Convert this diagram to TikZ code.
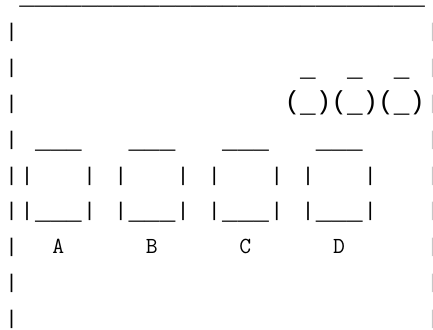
\documentclass[tikz,border=0pt]{standalone}
\usepackage{fontspec}
\usepackage{graphicx}
\newfontfamily\asciifont{Liberation Mono}
\usetikzlibrary{positioning}
% underscore and bar set as in the reference's typewriter face
\newcommand\lowbar{\raisebox{-2.3pt}{\_}}
\newcommand\wall{\makebox[0.6em]{\raisebox{0.55pt}{\scalebox{0.8}[0.76]{|}}}}
\tikzset{
 ascii/.style={font=\asciifont\fontsize{26pt}{30pt}\selectfont,inner sep=0pt,
               anchor=base west},
 faint/.style={ascii,text=black!22},
 tag/.style={font=\ttfamily\fontsize{23pt}{28pt}\selectfont,inner sep=0pt,
             anchor=base}
}

\begin{document}
\begin{tikzpicture}
\useasboundingbox (0pt,0pt) rectangle (433pt,-329pt);
\begin{scope}[shift={(3.6pt,-38pt)},x=15.6pt,y=-35.9pt]
% roof line
\node[ascii] (roof) at (1,-1)
  {\lowbar\lowbar\lowbar\lowbar\lowbar\lowbar\lowbar\lowbar\lowbar\lowbar\lowbar\lowbar\lowbar
   \lowbar\lowbar\lowbar\lowbar\lowbar\lowbar\lowbar\lowbar\lowbar\lowbar\lowbar\lowbar\lowbar};
% side walls
\foreach \r in {0,...,8}{
  \node[ascii] (left\r) at (0,\r) {\wall};
  \node[faint] (right\r) at (27,\r) {\wall};
}
% cups on the shelf
\foreach \c/\k in {18/1,21/2,24/3}{
  \node[ascii] (cuptop\k) at (\c+1,1) {\lowbar};
  \node[ascii] (cup\k) at (\c,2) {(\lowbar)};
}
% the four boxes
\foreach \c/\name in {1/A,7/B,13/C,19/D}{
  \node[ascii] (lid\name) at (\c+1,3) {\lowbar\lowbar\lowbar};
  \node[ascii] (sideL\name) at (\c,4) {\wall};
  \node[ascii] (sideR\name) at (\c+4,4) {\wall};
  \node[ascii] (box\name) at (\c,5) {\wall\lowbar\lowbar\lowbar\wall};
  \node[tag] (label\name) at (\c+2.5,6) {\name};
}
\end{scope}
\end{tikzpicture}
\end{document}
